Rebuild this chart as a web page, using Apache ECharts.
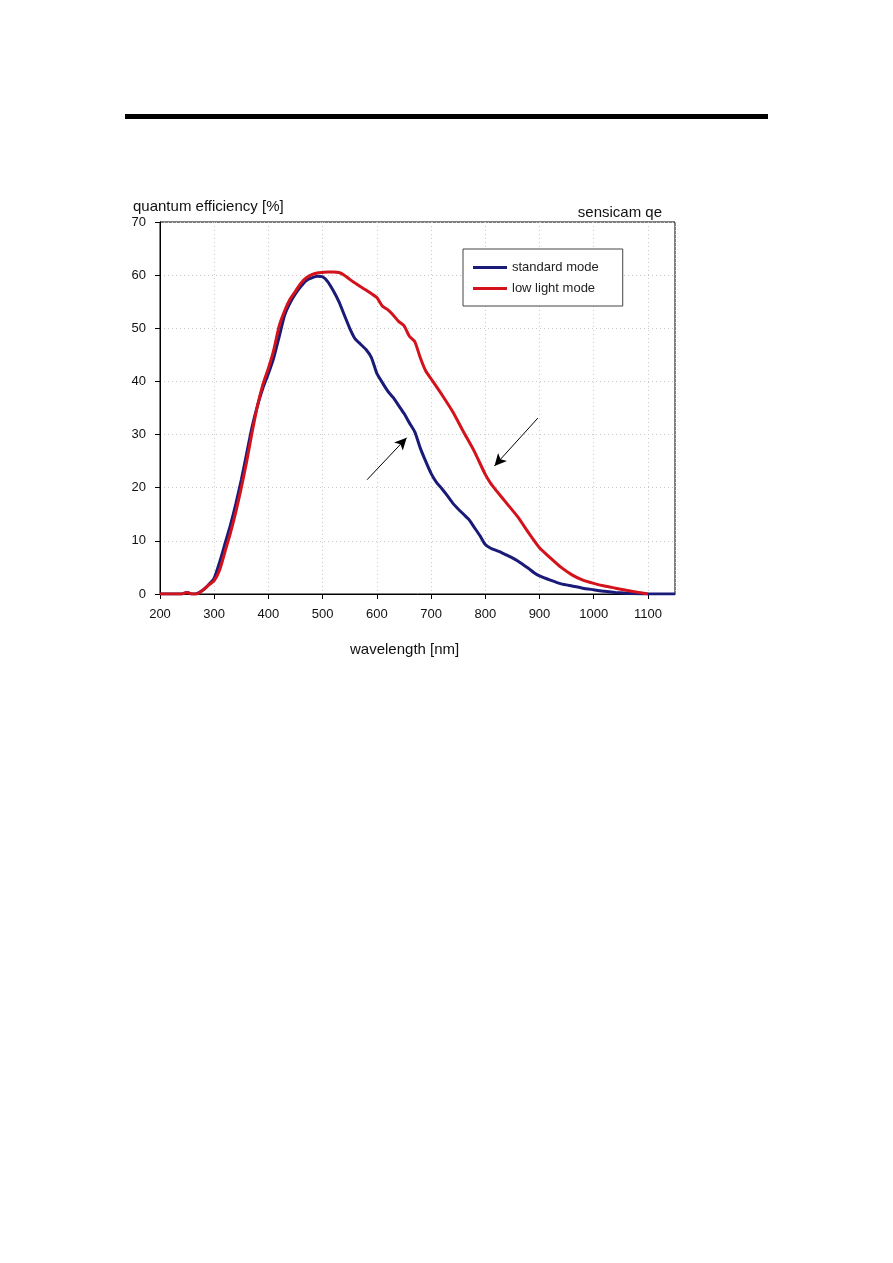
<!DOCTYPE html>
<html><head><meta charset="utf-8">
<script src="https://cdn.jsdelivr.net/npm/echarts@6/dist/echarts.min.js"></script>
<style>html,body{margin:0;padding:0;background:#fff}#c{width:893px;height:1263px}</style>
</head><body><div id="c"></div>
<script>
var stdWave = [200,240,250,258,265,280,290,300,310,320,330,340,350,360,370,380,390,400,410,420,430,440,450,460,470,480,490,500,510,520,530,540,550,560,570,580,590,600,610,620,630,640,650,660,670,680,690,700,710,720,730,740,750,760,770,780,790,800,810,820,830,840,850,860,870,880,890,900,920,940,960,980,1000,1020,1040,1060,1080,1100,1150];
var stdQE = [0,0,0.3,0,0,0.8,1.8,3,6,9.5,13,17,21.5,26.5,31.5,35.5,38.8,41.5,44.5,48.5,52.5,54.8,56.5,57.9,59,59.5,59.8,59.7,58.7,57,55,52.5,50,48,47,46,44.5,41.5,39.8,38.2,37,35.5,34,32.2,30.5,27.5,25,22.7,21,19.8,18.5,17.1,16,15,14,12.5,11,9.3,8.6,8.2,7.8,7.3,6.8,6.2,5.5,4.8,4,3.4,2.6,1.9,1.5,1.1,0.8,0.5,0.3,0.15,0.05,0,0];
var lowWave = [200,240,250,258,268,280,290,300,310,320,330,340,350,360,370,380,390,400,410,420,430,440,450,460,470,480,490,500,510,520,530,540,550,560,570,580,590,600,610,620,630,640,650,660,670,680,690,700,720,740,760,780,800,810,820,840,860,880,900,920,940,960,980,1000,1020,1040,1060,1080,1100];
var lowQE = [0,0,0.3,0,0,0.8,1.7,2.5,4.5,8,11.5,15.5,20,25,30.5,35.5,39.5,42.5,46,50.5,53.3,55.5,57,58.5,59.5,60.1,60.4,60.5,60.6,60.6,60.5,60,59.2,58.5,57.8,57.2,56.5,55.8,54.2,53.5,52.5,51.3,50.5,48.5,47.5,44.5,42,40.5,37.5,34.3,30.5,26.8,22.5,20.8,19.5,17,14.5,11.5,8.7,6.8,5,3.6,2.6,2,1.5,1.1,0.7,0.35,0];
var seriesNames = ['standard mode','low light mode'];
var xTicks = {min:200, max:1150, interval:100};
var yTicks = {min:0, max:70, interval:10};
var arrows = [[[582,21.5],[655,29.4]],[[897,33.1],[817,24.1]]];

function pairs(xs, ys){ return xs.map(function(x,i){return [x, ys[i]];}); }
var font = 'Liberation Sans, Arial, sans-serif';
var chart = echarts.init(document.getElementById('c'), null, {renderer:'canvas'});
chart.setOption({
  backgroundColor:'#fff',
  animation:false,
  textStyle:{fontFamily:font},
  title:[
    {text:'quantum efficiency [%]', left:128, top:194, textStyle:{fontSize:15, fontWeight:'normal', color:'#111', fontFamily:font}},
    {text:'sensicam qe', right:226, top:200, textStyle:{fontSize:15, fontWeight:'normal', color:'#111', fontFamily:font}},
    {text:'wavelength [nm]', left:345, top:637, textStyle:{fontSize:15, fontWeight:'normal', color:'#111', fontFamily:font}}
  ],
  graphic:[{type:'rect', shape:{x:125, y:114, width:643, height:5}, style:{fill:'#000'}}],
  legend:{
    orient:'vertical', left:463, top:249, padding:[12,24,11,10], itemGap:8,
    itemWidth:34, itemHeight:3, borderColor:'#444', borderWidth:1, backgroundColor:'#fff',
    textStyle:{fontSize:13, color:'#222', fontFamily:font},
    data:seriesNames.map(function(n){return {name:n, icon:'rect'};})
  },
  grid:{left:160, right:218, top:222, bottom:669, show:true, borderColor:'#000', borderWidth:1, containLabel:false},
  xAxis:{type:'value', min:xTicks.min, max:xTicks.max, interval:xTicks.interval,
    axisLine:{lineStyle:{color:'#000', width:1}}, axisTick:{show:true, length:5, lineStyle:{color:'#000'}},
    axisLabel:{color:'#111', fontSize:13, margin:14, showMaxLabel:false, fontFamily:font, formatter:function(v){return String(v);}},
    splitLine:{show:true, lineStyle:{color:'#c8c8c8', type:[1,3], width:1}}},
  yAxis:{type:'value', min:yTicks.min, max:yTicks.max, interval:yTicks.interval,
    axisLine:{show:true, lineStyle:{color:'#000', width:1}}, axisTick:{show:true, length:5, lineStyle:{color:'#000'}},
    axisLabel:{color:'#111', fontSize:13, margin:14, fontFamily:font},
    splitLine:{show:true, lineStyle:{color:'#c8c8c8', type:[1,3], width:1}}},
  series:[
    {name:seriesNames[0], type:'line', data:pairs(stdWave, stdQE), showSymbol:false, symbol:'none', smooth:0.2,
      lineStyle:{color:'#1a1a78', width:3}, itemStyle:{color:'#1a1a78'}, z:3},
    {name:seriesNames[1], type:'line', data:pairs(lowWave, lowQE), showSymbol:false, symbol:'none', smooth:0.2,
      lineStyle:{color:'#d4121c', width:3}, itemStyle:{color:'#d4121c'}, z:4},
    {name:'arrows', type:'line', data:[], silent:true,
      markLine:{silent:true, symbol:['none','arrow'], symbolSize:[9,12], label:{show:false},
        lineStyle:{color:'#000', width:1, type:'solid'},
        data:arrows.map(function(a){return [{coord:a[0]},{coord:a[1]}];})}}
  ]
});
</script></body></html>
